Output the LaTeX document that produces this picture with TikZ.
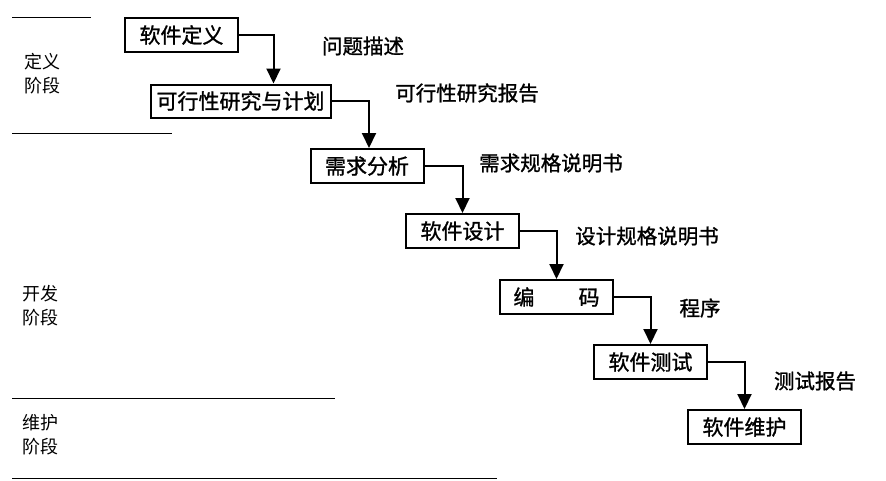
\documentclass[tikz,border=0pt]{standalone}
\usepackage{fontspec}
\newfontfamily\cjk{Noto Sans CJK SC}
\newfontfamily\cjkheavy[FakeBold=1.2]{Noto Sans CJK SC}
\usetikzlibrary{arrows.meta}

\begin{document}
\begin{tikzpicture}
  [x=1pt, y=-1pt,
   every node/.style={font=\cjkheavy\fontsize{21pt}{21pt}\selectfont, inner sep=0pt},
   box/.style={draw, line width=2pt, minimum width=113pt, minimum height=34pt},
   flow/.style={line width=2pt, -{Triangle[width=14pt,length=15pt]}},
   note/.style={font=\cjkheavy\fontsize{20.5pt}{20.5pt}\selectfont},
   phase/.style={align=left, font=\cjk\fontsize{18pt}{24pt}\selectfont},
   sep/.style={line width=1pt}]
  \useasboundingbox (0,0) rectangle (886,480);
  \node [box] (def)   at (181.5,35)  {软件定义};
  \node [box, minimum width=180pt, minimum height=33pt] (feas) at (240.5,101) {可行性研究与计划};
  \node [box] (req)   at (367,166)   {需求分析};
  \node [box] (des)   at (462.5,231) {软件设计};
  \node [box] (code)  at (556.5,297) {编\hspace{2.1em}码};
  \node [box] (test)  at (650.5,362) {软件测试};
  \node [box] (maint) at (744.5,427) {软件维护};
  \draw [flow] (def.east) -| ([xshift=124pt]feas.north west);
  \draw [flow] (feas.east) -| ([xshift=2pt]req.north);
  \draw [flow] (req.east) -| (des.north);
  \draw [flow] (des.east) -| (code.north);
  \draw [flow] (code.east) -| (test.north);
  \draw [flow] (test.east) -| (maint.north);
  \node [note] (n1) at (363,46)  {问题描述};
  \node [note] (n2) at (467,93)  {可行性研究报告};
  \node [note] (n3) at (551,163) {需求规格说明书};
  \node [note] (n4) at (647,236) {设计规格说明书};
  \node [note] (n5) at (700,308) {程序};
  \node [note] (n6) at (815,381) {测试报告};
  \node [phase] (p1) at (42,73.5) {定义\\阶段};
  \node [phase] (p2) at (41,305.5) {开发\\阶段};
  \node [phase] (p3) at (41,435) {维护\\阶段};
  \draw [sep] (12,17) -- (91,17);
  \draw [sep] (12,133) -- (172,133);
  \draw [sep] (12,398) -- (335,398);
  \draw [sep] (12,478) -- (497,478);
\end{tikzpicture}
\end{document}
